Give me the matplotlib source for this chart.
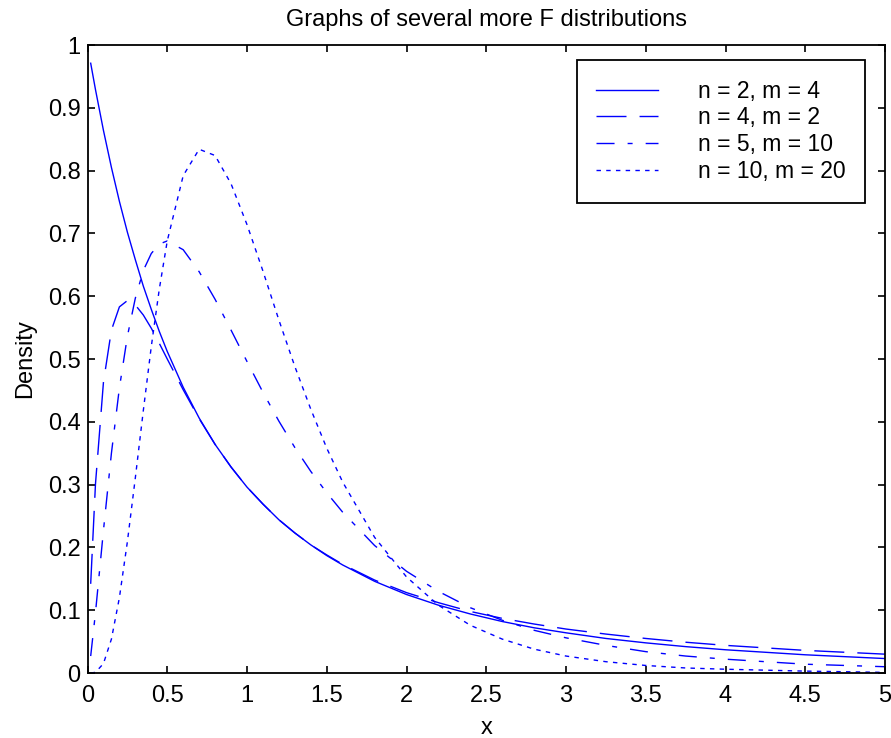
import matplotlib
matplotlib.use("Agg")
import matplotlib.pyplot as plt

plt.rcParams['font.family'] = ['Liberation Sans', 'DejaVu Sans']

x_vals = [0.02, 0.05, 0.1, 0.15, 0.2, 0.25, 0.3, 0.35, 0.4, 0.45, 0.5, 0.6, 0.7, 0.8, 0.9,
          1.0, 1.1, 1.2, 1.3, 1.4, 1.5, 1.6, 1.8, 2.0, 2.2, 2.4, 2.6, 2.8, 3.0, 3.25,
          3.5, 3.75, 4.0, 4.5, 5.0]

dens_n2_m4 = [0.971, 0.929, 0.864, 0.805, 0.751, 0.702, 0.658, 0.616, 0.579, 0.544, 0.512,
              0.455, 0.406, 0.364, 0.328, 0.296, 0.269, 0.244, 0.223, 0.204, 0.187, 0.172,
              0.146, 0.125, 0.108, 0.094, 0.082, 0.072, 0.064, 0.055, 0.048, 0.042, 0.037,
              0.029, 0.023]

dens_n4_m2 = [0.142, 0.301, 0.463, 0.546, 0.583, 0.593, 0.586, 0.570, 0.549, 0.525, 0.500,
              0.451, 0.405, 0.364, 0.328, 0.296, 0.269, 0.244, 0.223, 0.204, 0.188, 0.173,
              0.148, 0.128, 0.112, 0.098, 0.087, 0.078, 0.070, 0.062, 0.055, 0.049, 0.044,
              0.036, 0.030]

dens_n5_m10 = [0.027, 0.096, 0.227, 0.350, 0.454, 0.536, 0.597, 0.641, 0.668, 0.683, 0.688,
               0.674, 0.639, 0.595, 0.546, 0.496, 0.447, 0.401, 0.359, 0.321, 0.287, 0.256,
               0.203, 0.162, 0.130, 0.104, 0.084, 0.068, 0.056, 0.044, 0.034, 0.027, 0.022,
               0.014, 0.010]

dens_n10_m20 = [0.000, 0.001, 0.015, 0.054, 0.120, 0.209, 0.311, 0.418, 0.520, 0.611, 0.688,
                0.792, 0.834, 0.824, 0.779, 0.714, 0.640, 0.562, 0.488, 0.420, 0.358, 0.304,
                0.216, 0.153, 0.108, 0.076, 0.054, 0.038, 0.027, 0.018, 0.012, 0.008, 0.006,
                0.003, 0.001]

labels = ['n = 2, m = 4', 'n = 4, m = 2', 'n = 5, m = 10', 'n = 10, m = 20']
x_ticks = [0, 0.5, 1, 1.5, 2, 2.5, 3, 3.5, 4, 4.5, 5]
x_ticklabels = ['0', '0.5', '1', '1.5', '2', '2.5', '3', '3.5', '4', '4.5', '5']
y_ticks = [0, 0.1, 0.2, 0.3, 0.4, 0.5, 0.6, 0.7, 0.8, 0.9, 1]
y_ticklabels = ['0', '0.1', '0.2', '0.3', '0.4', '0.5', '0.6', '0.7', '0.8', '0.9', '1']

fig = plt.figure(figsize=(8.91, 7.38), dpi=100)
ax = fig.add_axes([87.5 / 891, 65 / 738, (885 - 87.5) / 891, (673 - 45) / 738])

blue = '#0000ff'
styles = ['-', (0, (21.6, 9.4)), (0, (13, 9.4, 3.6, 9.4)), (0, (3.2, 3.8))]
series = [dens_n2_m4, dens_n4_m2, dens_n5_m10, dens_n10_m20]
for ys, ls, lab in zip(series, styles, labels):
    ax.plot(x_vals, ys, color=blue, linestyle=ls, linewidth=1.0, label=lab)

ax.set_xlim(0, 5)
ax.set_ylim(0, 1)
ax.set_xticks(x_ticks)
ax.set_xticklabels(x_ticklabels)
ax.set_yticks(y_ticks)
ax.set_yticklabels(y_ticklabels)
ax.tick_params(direction='in', length=5, width=1.2, top=True, right=True,
               labelsize=17, colors='black')
ax.tick_params(axis='x', pad=9)
ax.tick_params(axis='y', pad=5)
for sp in ax.spines.values():
    sp.set_linewidth(1.3)

ax.set_title('Graphs of several more F distributions', fontsize=17, pad=14)
ax.set_xlabel('x', fontsize=17, labelpad=7)
ax.set_ylabel('Density', fontsize=17, labelpad=8)

leg = ax.legend(loc='upper left', bbox_to_anchor=(0.6134, 0.976), fontsize=16.5,
                frameon=True, fancybox=False, edgecolor='black', framealpha=1,
                handlelength=2.7, handletextpad=1.75, labelspacing=0.17,
                borderpad=0.85, borderaxespad=0)
leg.get_frame().set_linewidth(1.3)

fig.savefig('out.png', dpi=100)
